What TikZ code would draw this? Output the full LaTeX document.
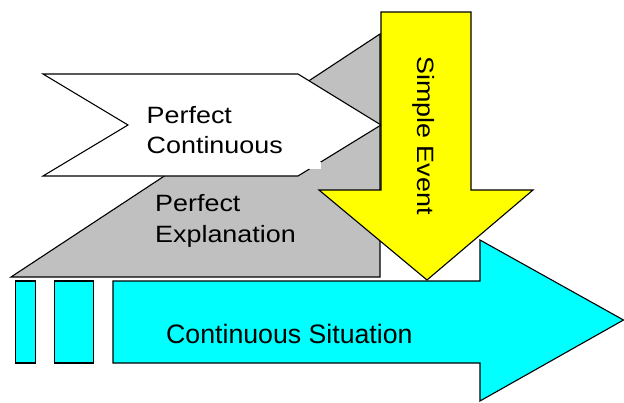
\documentclass[tikz,border=0pt]{standalone}
\usepackage{fontspec}
\setmainfont{Liberation Sans}
\definecolor{grayfill}{RGB}{192,192,192}
\definecolor{cyanfill}{RGB}{0,255,255}
\definecolor{yellowfill}{RGB}{255,255,0}
\begin{document}
\begin{tikzpicture}[x=1pt,y=-1pt,line join=miter,
  outl/.style={draw=black,line width=1.1pt},
  lbl/.style={inner sep=0pt,font=\fontsize{23.6}{30.5}\selectfont}]
\useasboundingbox (0,0) rectangle (624,402);
\path[fill=white] (0,0) rectangle (624,402);
% gray triangle
\path[outl,fill=grayfill] (11,277) -- (380,34) -- (380,277) -- cycle;
% white chevron
\path[outl,fill=white] (43,74) -- (298,74) -- (381,125) -- (298,176) -- (43,176) -- (128,125) -- cycle;
\path[fill=white] (309,161.7) rectangle (321,169.3);
% cyan arrow and bars
\path[outl,fill=cyanfill] (113,281) -- (480,281) -- (480,240) -- (623.5,320) -- (480,401) -- (480,363) -- (113,363) -- cycle;
\path[outl,fill=cyanfill] (15.7,281) rectangle (35.7,363);
\path[outl,fill=cyanfill] (54.3,281) rectangle (93.7,363);
% yellow arrow
\path[outl,fill=yellowfill] (381,12) -- (471,12) -- (471,190) -- (533,190) -- (427,280) -- (319,190) -- (381,190) -- cycle;
% labels
\node[lbl,anchor=base west] (pc) at (146.5,123.3) {\scalebox{1.14}[1]{\vtop{\hbox{Perfect}\hbox{Continuous}}}};
\node[lbl,anchor=base west] (pe) at (155,211.5) {\scalebox{1.14}[1]{\vtop{\hbox{Perfect}\hbox{Explanation}}}};
\node[lbl,rotate=-90,anchor=base west] (se) at (417,56) {\scalebox{1.14}[1]{Simple Event}};
\node[inner sep=0pt,font=\fontsize{26.7}{30}\selectfont,anchor=base west] (cs) at (166,343.3) {Continuous Situation};
\end{tikzpicture}
\end{document}
